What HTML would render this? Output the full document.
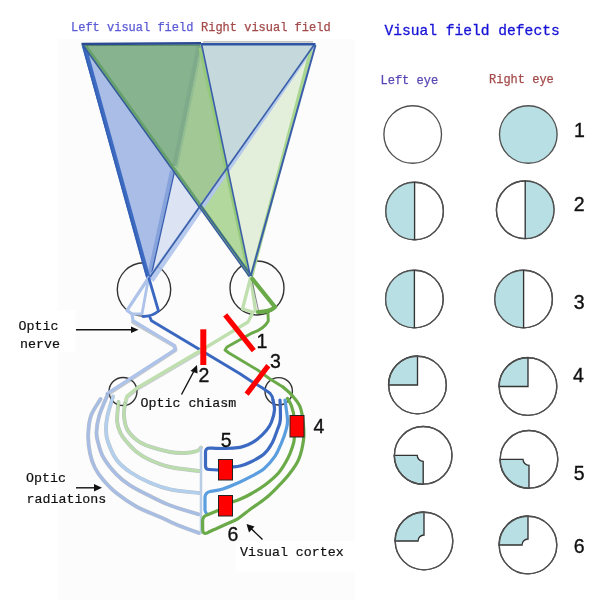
<!DOCTYPE html>
<html><head><meta charset="utf-8">
<style>
html,body{margin:0;padding:0;background:#fff;}
body{width:604px;height:600px;overflow:hidden;position:relative;}
svg{position:absolute;left:0;top:0;will-change:transform;}
.m{font-family:"Liberation Mono",monospace;}
.s{font-family:"Liberation Sans",sans-serif;}
</style></head>
<body>
<svg width="604" height="600" viewBox="0 0 604 600">
<!-- diagram background -->
<rect x="58" y="39" width="297" height="561" fill="#fcfcfc"/>
<rect x="0" y="310" width="75" height="42" fill="#fff"/>

<rect x="236" y="541" width="119" height="31" fill="#fff"/>

<!-- ===== eyes (behind) ===== -->
<g fill="none" stroke="#333" stroke-width="1.4">
<circle cx="144" cy="289.5" r="26.7"/>
<circle cx="257" cy="288" r="27"/>
<circle cx="123" cy="391.5" r="14"/>
<circle cx="278.7" cy="391.3" r="13.7"/>
</g>
<!-- ===== visual field triangles ===== -->
<polygon points="81.5,45 173.4,171.2 150.5,277.5 148,277.5" fill="#a9bde6"/>
<polygon points="81.5,45 201,43.5 173.4,171.2" fill="#88b38f"/>
<polygon points="201,43.5 315.5,44.5 227.4,167.9" fill="#c5d9dc"/>
<polygon points="201,43.5 227.4,167.9 199.5,207 173.4,171.2" fill="#a2c895"/>
<polygon points="227.4,167.9 250.5,277 199.5,207" fill="#b3d89e"/>
<polygon points="173.4,171.2 199.5,207 149.5,277 150.5,277.5" fill="#dce4f4"/>
<polygon points="227.4,167.9 315.5,44.5 250.5,277" fill="#e3efda"/>

<!-- edges -->
<g fill="none" stroke-linecap="butt">
<!-- line B upper soft band -->
<line x1="199" y1="45" x2="174.5" y2="166" stroke="#7fab8a" stroke-width="4.5"/>
<line x1="202" y1="46" x2="177" y2="168" stroke="#93bd92" stroke-width="2"/>
<!-- line B lower medium blue band + thin dark -->
<line x1="172" y1="171" x2="148.8" y2="277.5" stroke="#86a3dc" stroke-width="4"/>
<line x1="174.6" y1="171" x2="150.8" y2="277.5" stroke="#3a5fb0" stroke-width="1.3"/>
<!-- light blue band along line C lower part -->
<polygon points="313.5,46 315,47 153.5,282 148,277" fill="#b0c5ec" opacity="0.9"/>
<!-- green band along line D (right side) -->
<line x1="199.8" y1="48" x2="248.8" y2="276" stroke="#94c87a" stroke-width="2.6"/>
<!-- green band along right edge -->
<line x1="311" y1="50" x2="251" y2="278" stroke="#a9d690" stroke-width="3.5"/>
<!-- left edge thick blue -->
<line x1="84" y1="45" x2="148.2" y2="277.5" stroke="#3d6bc2" stroke-width="4.3"/>
<line x1="82.6" y1="45.5" x2="146.9" y2="277" stroke="#3461b6" stroke-width="1.4"/>
<!-- line A: blue line + green band on right -->
<line x1="85.2" y1="44.8" x2="251.8" y2="276.5" stroke="#66a06a" stroke-width="2.6"/>
<line x1="83.5" y1="46" x2="250" y2="277.5" stroke="#33599c" stroke-width="1.5"/>
<line x1="201" y1="206" x2="252.3" y2="277" stroke="#33599c" stroke-width="1.2"/>
<!-- line C -->
<line x1="314" y1="45" x2="150" y2="277" stroke="#3a60aa" stroke-width="1.7"/>
<!-- line D thin -->
<line x1="201.5" y1="44" x2="250.5" y2="277" stroke="#3a5ea8" stroke-width="1.6"/>
<!-- right edge -->
<line x1="315.5" y1="45" x2="250.5" y2="277" stroke="#3a5fa8" stroke-width="2"/>
<!-- top edge -->
<line x1="203" y1="41.8" x2="313" y2="41.8" stroke="#c6c4c2" stroke-width="1.8"/>
<line x1="84" y1="45.6" x2="200" y2="45.3" stroke="#5a8a66" stroke-width="1"/>
<line x1="81.5" y1="44" x2="201" y2="43.2" stroke="#2a4a92" stroke-width="2.4"/>
<line x1="201" y1="44.2" x2="315.5" y2="44.3" stroke="#2f56a4" stroke-width="2.6"/>
</g>

<!-- rays inside eyes -->
<g fill="none" stroke-linecap="round" stroke-linejoin="round">
<!-- left eye -->
<path d="M133,322 L174.5,346 L175.5,350 L135,376.5 L108,394" stroke="#6f7a88" stroke-width="4" opacity="0.4"/>
<path d="M205,349 L137,389 L127,397 L125,404" stroke="#6f7a88" stroke-width="3.9" opacity="0.35"/>
<path d="M148.5,278 L127,310.4 L132,314 L133,320.5 L174,345.5 L175.5,349.5 L135,375.7 L107,393.6" stroke="#aec3ea" stroke-width="3.2"/>
<path d="M148.5,278 L142,314 L132,314" stroke="#aec3ea" stroke-width="2.8"/>
<path d="M149,278.5 L158.5,311 Q152,316.5 143,316.5" stroke="#3a68c0" stroke-width="2.8"/>
<path d="M150,317.5 L151.5,320.8 L199.2,349.2 L205.8,353.3 L240,373.7 L251.3,381.2 L262.5,388 L270,393.3 Q272.5,396 273,400" stroke="#3a68c0" stroke-width="2.9"/>
<!-- right eye -->
<path d="M250.5,278 L242.5,309 L253,312 L248,322 L205,348 L137,388 L127,396 L125,404" stroke="#bfdfae" stroke-width="3.3"/>
<path d="M250.8,278 L255.5,311" stroke="#bfdfae" stroke-width="3.3"/>
<path d="M252,280 L259,313" stroke="#666" stroke-width="0.8"/>
<path d="M252.5,279 L275,307 Q270,312 258,312" stroke="#6aaa48" stroke-width="4.2"/>
<path d="M268,314 L268.3,321 Q264,329 252,333 L227,347 L225,350 L229,353 L258.8,370.8 L270,379 L283,387" stroke="#6aaa48" stroke-width="2.9"/>
</g>

<!-- ===== optic radiations left ===== -->
<g fill="none" stroke-linecap="round" stroke-linejoin="round">
<path d="M100.6,399.0 C99.0,401.8 93.1,409.7 91.0,415.7 C88.9,421.7 88.4,428.7 88.2,435.0 C88.0,441.3 88.9,447.8 90.0,453.3 C91.1,458.8 92.8,463.6 95.0,468.0 C97.2,472.4 99.7,475.8 103.3,480.0 C106.9,484.2 111.1,488.9 116.7,493.3 C122.3,497.8 129.4,502.7 136.7,506.7 C144.0,510.7 153.5,514.1 160.7,517.3 C167.9,520.5 173.6,523.4 180.0,526.0 C186.4,528.6 195.8,531.8 199.0,533.0" stroke="#6f7a88" stroke-width="3.9" opacity="0.45"/>
<path d="M107.5,395.0 C106.1,398.4 101.0,409.5 99.2,415.7 C97.4,421.9 96.7,427.6 96.5,432.0 C96.3,436.4 96.9,437.8 98.0,442.0 C99.1,446.2 100.2,451.9 103.3,457.3 C106.4,462.8 112.2,470.0 116.7,474.7 C121.2,479.4 124.5,481.8 130.0,485.3 C135.6,488.9 143.3,492.7 150.0,496.0 C156.7,499.3 161.8,502.2 170.0,505.3 C178.2,508.4 194.2,513.0 199.0,514.5" stroke="#6f7a88" stroke-width="3.9" opacity="0.45"/>
<path d="M113.0,396.5 C112.1,399.7 108.7,410.1 107.5,415.7 C106.3,421.3 105.9,425.6 106.0,430.0 C106.1,434.4 106.2,437.0 108.0,442.0 C109.8,447.0 113.0,455.0 116.7,460.0 C120.4,465.0 124.5,468.2 130.0,472.0 C135.6,475.8 143.3,479.8 150.0,482.7 C156.7,485.6 161.8,487.6 170.0,489.3 C178.2,491.0 194.2,492.4 199.0,493.0" stroke="#6f7a88" stroke-width="3.9" opacity="0.45"/>
<path d="M118.5,402.0 C118.3,405.2 116.8,416.0 117.1,421.2 C117.4,426.4 119.0,429.7 120.5,433.0 C122.0,436.3 123.3,437.8 126.0,441.0 C128.7,444.2 132.7,448.8 136.7,452.0 C140.7,455.2 144.4,457.5 150.0,460.0 C155.6,462.5 161.8,465.2 170.0,467.0 C178.2,468.8 194.2,470.3 199.0,471.0" stroke="#6f7a88" stroke-width="3.9" opacity="0.45"/>
<path d="M125.0,404.0 C124.8,405.9 123.7,411.5 124.0,415.7 C124.3,419.9 124.9,424.9 127.0,429.0 C129.1,433.1 132.9,437.1 136.7,440.0 C140.5,442.9 144.4,444.7 150.0,446.7 C155.6,448.7 164.2,450.9 170.0,452.0 C175.8,453.1 180.5,453.2 185.0,453.0 C189.5,452.8 194.3,451.9 197.0,451.0 C199.7,450.1 200.3,448.1 201.0,447.5" stroke="#6f7a88" stroke-width="3.9" opacity="0.45"/>
<path d="M100.6,399.0 C99.0,401.8 93.1,409.7 91.0,415.7 C88.9,421.7 88.4,428.7 88.2,435.0 C88.0,441.3 88.9,447.8 90.0,453.3 C91.1,458.8 92.8,463.6 95.0,468.0 C97.2,472.4 99.7,475.8 103.3,480.0 C106.9,484.2 111.1,488.9 116.7,493.3 C122.3,497.8 129.4,502.7 136.7,506.7 C144.0,510.7 153.5,514.1 160.7,517.3 C167.9,520.5 173.6,523.4 180.0,526.0 C186.4,528.6 195.8,531.8 199.0,533.0" stroke="#a8bde4" stroke-width="3"/>
<path d="M107.5,395.0 C106.1,398.4 101.0,409.5 99.2,415.7 C97.4,421.9 96.7,427.6 96.5,432.0 C96.3,436.4 96.9,437.8 98.0,442.0 C99.1,446.2 100.2,451.9 103.3,457.3 C106.4,462.8 112.2,470.0 116.7,474.7 C121.2,479.4 124.5,481.8 130.0,485.3 C135.6,488.9 143.3,492.7 150.0,496.0 C156.7,499.3 161.8,502.2 170.0,505.3 C178.2,508.4 194.2,513.0 199.0,514.5" stroke="#a8bde4" stroke-width="3"/>
<path d="M113.0,396.5 C112.1,399.7 108.7,410.1 107.5,415.7 C106.3,421.3 105.9,425.6 106.0,430.0 C106.1,434.4 106.2,437.0 108.0,442.0 C109.8,447.0 113.0,455.0 116.7,460.0 C120.4,465.0 124.5,468.2 130.0,472.0 C135.6,475.8 143.3,479.8 150.0,482.7 C156.7,485.6 161.8,487.6 170.0,489.3 C178.2,491.0 194.2,492.4 199.0,493.0" stroke="#b2d0ee" stroke-width="3"/>
<path d="M118.5,402.0 C118.3,405.2 116.8,416.0 117.1,421.2 C117.4,426.4 119.0,429.7 120.5,433.0 C122.0,436.3 123.3,437.8 126.0,441.0 C128.7,444.2 132.7,448.8 136.7,452.0 C140.7,455.2 144.4,457.5 150.0,460.0 C155.6,462.5 161.8,465.2 170.0,467.0 C178.2,468.8 194.2,470.3 199.0,471.0" stroke="#bbddac" stroke-width="3"/>
<path d="M125.0,404.0 C124.8,405.9 123.7,411.5 124.0,415.7 C124.3,419.9 124.9,424.9 127.0,429.0 C129.1,433.1 132.9,437.1 136.7,440.0 C140.5,442.9 144.4,444.7 150.0,446.7 C155.6,448.7 164.2,450.9 170.0,452.0 C175.8,453.1 180.5,453.2 185.0,453.0 C189.5,452.8 194.3,451.9 197.0,451.0 C199.7,450.1 200.3,448.1 201.0,447.5" stroke="#bbddac" stroke-width="3"/>
<path d="M201,448 L201,533" stroke="#b8cce6" stroke-width="2.5"/>
</g>

<!-- ===== optic radiations right ===== -->
<g fill="none" stroke-linecap="round" stroke-linejoin="round" stroke-width="3.2">
<path d="M273.0,400.0 C273.2,401.7 274.8,406.3 274.5,410.0 C274.2,413.7 272.8,418.7 271.5,422.0 C270.2,425.3 269.1,427.1 266.7,430.0 C264.3,432.9 260.4,436.9 257.3,439.3 C254.2,441.8 250.9,443.4 248.0,444.7 C245.1,446.0 243.8,446.7 240.0,447.3 C236.2,447.9 230.0,448.4 225.0,448.5 C220.0,448.6 212.5,448.1 210.0,448.0 Q205.5,448 205.5,452 L205.5,466 Q205.5,469.5 209,469.5 L218,470" stroke="#3c6ac2"/>
<path d="M280.0,400.0 C280.1,403.3 280.8,415.0 280.3,420.0 C279.9,425.0 278.7,426.1 277.3,430.0 C275.9,433.9 274.2,439.3 272.0,443.3 C269.8,447.3 267.6,450.9 264.0,454.0 C260.4,457.1 254.7,460.0 250.7,462.0 C246.7,464.0 243.1,465.2 240.0,466.0 C236.9,466.8 233.3,466.8 232.0,467.0" stroke="#3c6ac2"/>
<path d="M285.0,400.0 C285.4,403.3 287.3,415.0 287.5,420.0 C287.7,425.0 287.0,426.1 286.0,430.0 C285.0,433.9 283.2,438.9 281.3,443.3 C279.4,447.8 277.6,452.5 274.7,456.7 C271.8,460.9 268.0,465.4 264.0,468.7 C260.0,472.0 254.7,474.5 250.7,476.7 C246.7,478.9 244.7,479.9 240.0,482.0 C235.3,484.1 227.8,487.4 222.8,489.0 C217.8,490.6 212.1,491.1 210.0,491.5 Q205.5,492.5 205,497 L205,510 Q205.5,513 207,514" stroke="#5a9ee0"/>
<path d="M287.5,398.3 C288.2,399.6 290.4,402.7 291.5,406.0 C292.6,409.3 293.7,412.7 294.2,418.0 C294.7,423.3 294.6,433.3 294.3,438.0 C294.1,442.7 293.8,442.7 292.7,446.0 C291.6,449.3 290.3,453.6 288.0,458.0 C285.7,462.4 282.5,468.2 278.7,472.7 C274.9,477.1 270.0,481.1 265.3,484.7 C260.6,488.2 254.9,491.6 250.7,494.0 C246.5,496.4 243.1,498.0 240.0,499.3 C236.9,500.6 233.3,501.6 232.0,502.0" stroke="#6aaa48"/>
<path d="M283.0,387.0 C284.4,388.3 288.9,391.7 291.7,395.0 C294.5,398.3 298.1,402.0 300.0,406.7 C301.9,411.4 302.7,417.8 303.3,423.3 C303.9,428.9 304.3,434.0 303.5,440.0 C302.7,446.0 301.1,453.6 298.7,459.3 C296.3,465.0 292.9,469.3 289.3,474.0 C285.7,478.7 281.3,483.2 277.3,487.3 C273.3,491.4 269.9,494.8 265.3,498.5 C260.8,502.2 254.6,506.1 250.0,509.5 C245.4,512.9 241.9,516.2 237.7,518.8 C233.5,521.3 229.2,522.8 224.8,524.8 C220.4,526.8 214.0,529.6 211.0,531.0 C208.0,532.4 207.7,532.7 207.0,533.0 Q203,534.5 202.7,530 L202.6,521 Q202.8,516 207,515 L218,510.5" stroke="#6aaa48"/>
</g>

<!-- ===== red lesion marks ===== -->
<g stroke="#ff0000" stroke-width="5.2">
<line x1="225.2" y1="314.8" x2="253.8" y2="350.6"/>
<line x1="268.3" y1="365.7" x2="246.6" y2="394.2"/>
</g>
<rect x="200.3" y="329.3" width="6" height="35.7" fill="#ff0000"/>
<g fill="#ff0000" stroke="#222" stroke-width="1">
<rect x="290" y="415.5" width="14" height="21.5"/>
<rect x="218.5" y="459.5" width="14" height="20.5"/>
<rect x="218.5" y="495.5" width="14" height="20.5"/>
</g>

<!-- ===== arrows ===== -->
<g stroke="#111" stroke-width="1.4" fill="none">
<line x1="76" y1="329.7" x2="133" y2="329.7"/>
<line x1="76" y1="487.8" x2="97" y2="487.8"/>
<line x1="181.5" y1="394.5" x2="194.5" y2="370"/>
<line x1="262.5" y1="539.5" x2="250.5" y2="528"/>
</g>
<g fill="#111">
<polygon points="138.5,329.7 131,326.5 131,332.9"/>
<polygon points="102,487.8 94,484 94,491.6"/>
<polygon points="197,365 190.5,371 197.5,373.5"/>
<polygon points="246.5,524 249,532.5 254.5,526.5"/>
</g>

<!-- ===== diagram numbers ===== -->
<g class="s" font-size="19.5" fill="#111" stroke="#111" stroke-width="0.35">
<text x="256.5" y="347.5">1</text>
<text x="198.5" y="382.3">2</text>
<text x="270" y="367.5">3</text>
<text x="313.5" y="433">4</text>
<text x="220.7" y="446.8">5</text>
<text x="227.5" y="540.5">6</text>
</g>

<!-- ===== labels ===== -->
<g class="m">
<text x="71" y="30.5" font-size="12" fill="#5b5bd6" stroke="#5b5bd6" stroke-width="0.25">Left visual field</text>
<text x="201" y="30.5" font-size="12" fill="#a34a4a" stroke="#a34a4a" stroke-width="0.25">Right visual field</text>
<text x="384.5" y="35" font-size="14.6" fill="#1612d6" stroke="#1612d6" stroke-width="0.3">Visual field defects</text>
<text x="380.5" y="83.5" font-size="12" fill="#5a46b4" stroke="#5a46b4" stroke-width="0.25">Left eye</text>
<text x="489" y="83" font-size="12" fill="#a44a4a" stroke="#a44a4a" stroke-width="0.25">Right eye</text>
</g>
<g class="m" font-size="13.3" fill="#111" stroke="#111" stroke-width="0.2">
<text x="18.5" y="329.7">Optic</text>
<text x="20" y="348.2">nerve</text>
<text x="140.5" y="406.7">Optic chiasm</text>
<text x="26" y="481.9">Optic</text>
<text x="26.5" y="503.3">radiations</text>
<text x="240" y="555.6">Visual cortex</text>
</g>

<!-- ===== visual field defect circles ===== -->
<g stroke="#505050" stroke-width="1.35">
<!-- row 1 -->
<circle cx="412.7" cy="134.5" r="28.8" fill="#fff"/>
<circle cx="528.3" cy="134.5" r="28.8" fill="#b8dfe3"/>
<!-- row 2 -->
<circle cx="414.6" cy="211" r="28.8" fill="#fff"/>
<path d="M414.6,182 A29,29 0 0,0 414.6,240 Z" fill="#b8dfe3" stroke="none"/>
<circle cx="414.6" cy="211" r="28.8" fill="none"/>
<line x1="414.6" y1="182" x2="414.6" y2="240" stroke="#333"/>
<circle cx="525.2" cy="209.8" r="28.8" fill="#fff"/>
<path d="M525.2,180.8 A29,29 0 0,1 525.2,238.8 Z" fill="#b8dfe3" stroke="none"/>
<circle cx="525.2" cy="209.8" r="28.8" fill="none"/>
<line x1="525.2" y1="180.8" x2="525.2" y2="238.8" stroke="#333"/>
<!-- row 3 -->
<circle cx="414.4" cy="299" r="28.8" fill="#fff"/>
<path d="M414.4,270 A29,29 0 0,0 414.4,328 Z" fill="#b8dfe3" stroke="none"/>
<circle cx="414.4" cy="299" r="28.8" fill="none"/>
<line x1="414.4" y1="270" x2="414.4" y2="328" stroke="#333"/>
<circle cx="523.6" cy="299" r="28.8" fill="#fff"/>
<path d="M523.6,270 A29,29 0 0,0 523.6,328 Z" fill="#b8dfe3" stroke="none"/>
<circle cx="523.6" cy="299" r="28.8" fill="none"/>
<line x1="523.6" y1="270" x2="523.6" y2="328" stroke="#333"/>
<!-- row 4 -->
<circle cx="417.5" cy="385" r="28.8" fill="#fff"/>
<path d="M417.5,356 L417.5,385 L388.5,385 A29,29 0 0,1 417.5,356 Z" fill="#b8dfe3" stroke="#333" stroke-linejoin="miter"/>
<circle cx="417.5" cy="385" r="28.8" fill="none"/>
<circle cx="528" cy="386.5" r="28.8" fill="#fff"/>
<path d="M528,357.5 L528,386.5 L499,386.5 A29,29 0 0,1 528,357.5 Z" fill="#b8dfe3" stroke="#333"/>
<circle cx="528" cy="386.5" r="28.8" fill="none"/>
<!-- row 5 -->
<circle cx="423.2" cy="455.3" r="28.8" fill="#fff"/>
<path d="M394.2,455.3 L417.2,455.3 A6,6 0 0,0 423.2,461.3 L423.2,484.3 A29,29 0 0,1 394.2,455.3 Z" fill="#b8dfe3" stroke="#333"/>
<circle cx="423.2" cy="455.3" r="28.8" fill="none"/>
<circle cx="529" cy="459.3" r="28.8" fill="#fff"/>
<path d="M500,459.3 L523,459.3 A6,6 0 0,0 529,465.3 L529,488.3 A29,29 0 0,1 500,459.3 Z" fill="#b8dfe3" stroke="#333"/>
<circle cx="529" cy="459.3" r="28.8" fill="none"/>
<!-- row 6 -->
<circle cx="424" cy="541" r="28.8" fill="#fff"/>
<path d="M424,512 L424,535 A6,6 0 0,0 418,541 L395,541 A29,29 0 0,1 424,512 Z" fill="#b8dfe3" stroke="#333"/>
<circle cx="424" cy="541" r="28.8" fill="none"/>
<circle cx="528" cy="545" r="28.8" fill="#fff"/>
<path d="M528,516 L528,539 A6,6 0 0,0 522,545 L499,545 A29,29 0 0,1 528,516 Z" fill="#b8dfe3" stroke="#333"/>
<circle cx="528" cy="545" r="28.8" fill="none"/>
</g>

<!-- right-panel numbers -->
<g class="s" font-size="19.5" fill="#111" stroke="#111" stroke-width="0.35">
<text x="574" y="137.3">1</text>
<text x="573.7" y="210.6">2</text>
<text x="573.7" y="308.6">3</text>
<text x="573" y="382">4</text>
<text x="573.7" y="479.6">5</text>
<text x="573.7" y="553">6</text>
</g>
</svg>
</body></html>
